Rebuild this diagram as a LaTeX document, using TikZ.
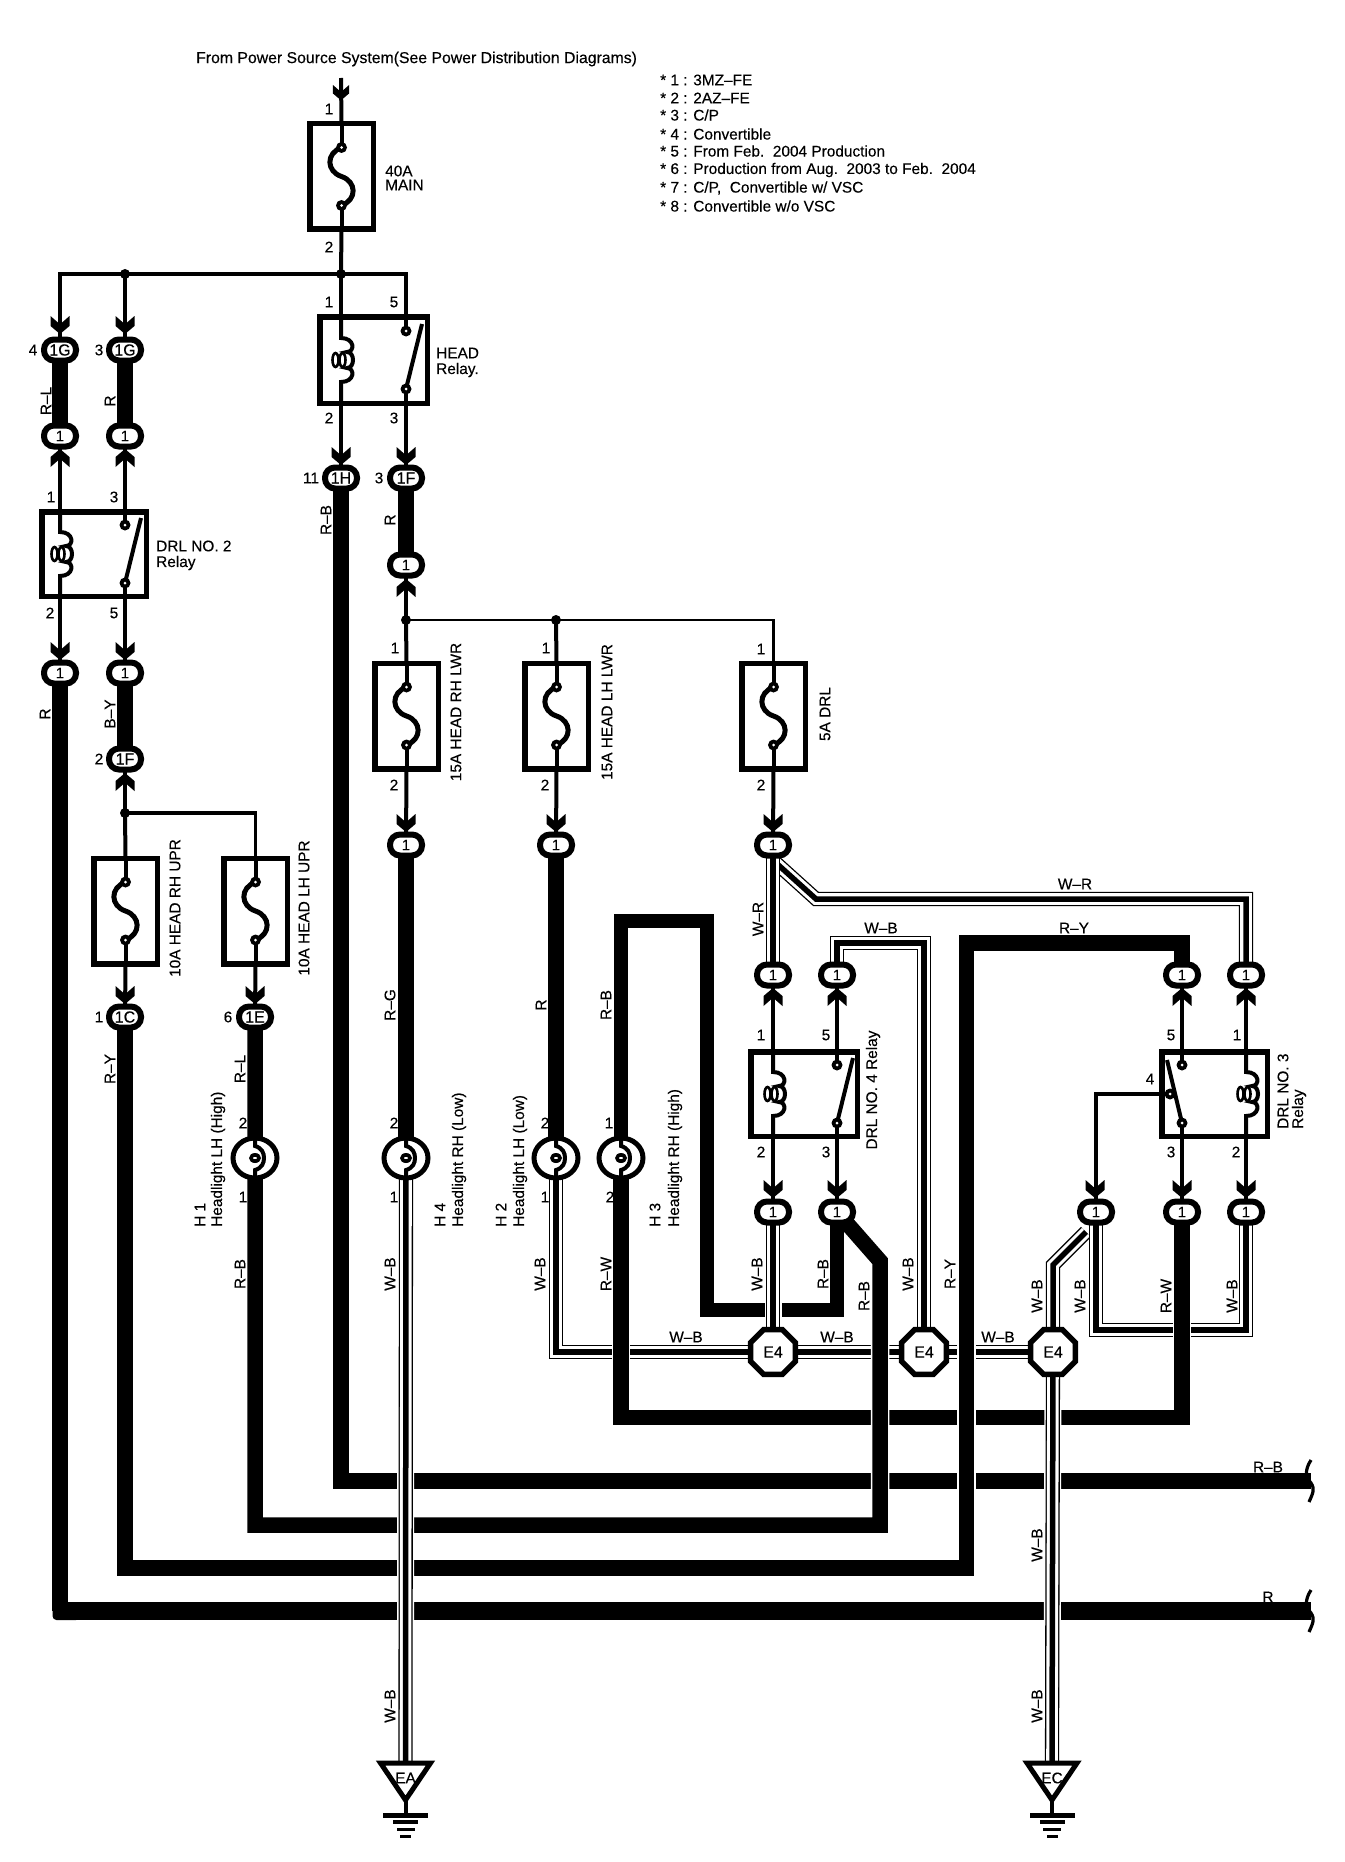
\documentclass[tikz,border=0pt]{standalone}
\usepackage{fontspec}
\setmainfont[FakeBold=0.25]{Liberation Sans}
\usetikzlibrary{shapes.geometric,calc}
\pgfdeclarelayer{wires}
\pgfsetlayers{wires,main}
\newcounter{lb}
\newcommand\txtsize{\fontsize{15.4}{15.4}\selectfont}
\newcommand\pinlab[2]{\stepcounter{lb}\node[pintext] (lb\arabic{lb}) at (#1) {#2};}
\newcommand\hlab[2]{\stepcounter{lb}\node[plaintext] (lb\arabic{lb}) at (#1) {#2};}
\newcommand\lefttxt[2]{\stepcounter{lb}\node[plaintext,anchor=west] (lb\arabic{lb}) at (#1) {#2};}
\newcommand\vlab[2]{\stepcounter{lb}\node[plaintext,rotate=90] (lb\arabic{lb}) at (#1) {#2};}
\newcommand\vstart[2]{\stepcounter{lb}\node[plaintext,rotate=90,anchor=west] (lb\arabic{lb}) at (#1) {#2};}
\tikzset{
  plaintext/.style={inner sep=0pt,font=\txtsize,text=black},
  pintext/.style={inner sep=0pt,font=\txtsize,text=black},
  ovalc/.style={draw=black,fill=white,line width=6pt,rounded corners=10pt,minimum width=32pt,minimum height=21pt,inner sep=0pt,font=\fontsize{15}{15}\selectfont},
  ovalb/.style={ovalc,font=\fontsize{16}{16}\selectfont},
  fusebox/.style={draw=black,line width=5.5pt,minimum width=63.5pt,minimum height=105.5pt,inner sep=0pt,outer sep=0pt},
  relaybox/.style={draw=black,line width=5.5pt,inner sep=0pt,outer sep=0pt},
  jdot/.style={circle,fill=black,minimum size=10pt,inner sep=0pt},
  bulbn/.style={ellipse,draw=black,fill=white,line width=5pt,minimum width=44pt,minimum height=40pt,inner sep=0pt},
  octa/.style={regular polygon,regular polygon sides=8,draw=black,fill=white,line width=5.5pt,minimum size=48.5pt,inner sep=0pt,font=\fontsize{16}{16}\selectfont},
  thinw/.style={line width=4pt,black},
  thickw/.style={line width=15.5pt,black},
  haloed/.style={preaction={draw,white,line width=18.5pt}},
  stripe/.style={line width=14.2pt,black,postaction={draw,white,line width=11.6pt},postaction={draw,black,line width=5.5pt}},
  stripeh/.style={preaction={draw,white,line width=17pt},stripe},
  darr/.pic={\fill[black] (-9.5,0)--(-1.5,7)--(1.5,7)--(9.5,0)--(9.5,10)--(0,18)--(-9.5,10)--cycle;},
  uarr/.pic={\fill[black] (-9.5,0)--(-1.5,-7)--(1.5,-7)--(9.5,0)--(9.5,-10)--(0,-18)--(-9.5,-10)--cycle;},
  ring/.pic={\fill[black] (0,0) circle (5.5pt);\fill[white] (0,0) circle (1.5pt);},
  fusemark/.pic={
    \draw[thinw] (0,-53)--(0,-29);
    \draw[thinw] (0,29)--(0,53);
    \draw[line width=5pt,black] (0,-29) .. controls (-16,-23) and (-15,-5) .. (0,0) .. controls (15,5) and (16,23) .. (0,29);
    \pic at (0,-29) {ring};
    \pic at (0,29) {ring};
  },
  coilmark/.pic={
    \draw[thinw] (0,-45)--(0,-22) .. controls (14,-22) and (14,-8) .. (6,-8) .. controls (14,-8) and (14,8) .. (6,8) .. controls (14,8) and (14,22) .. (0,22)--(0,45);
    \draw[line width=2.6pt,black] (-5.5,0) ellipse [x radius=3pt,y radius=7pt];
    \draw[line width=2.6pt,black] (1.5,0) ellipse [x radius=3pt,y radius=7pt];
  },
  switchr/.pic={
    \draw[thinw] (0,-45)--(0,-29);
    \draw[thinw] (0,29)--(0,45);
    \draw[line width=4pt,black] (0,29)--(16,-36);
    \pic at (0,-29) {ring};
    \pic at (0,29) {ring};
  },
  switchl/.pic={
    \draw[thinw] (0,-45)--(0,-29);
    \draw[thinw] (0,29)--(0,45);
    \draw[line width=4pt,black] (0,29)--(-15,-34);
    \pic at (0,-29) {ring};
    \pic at (0,29) {ring};
  },
  filament/.pic={
    \draw[line width=4pt,black] (0,-20)--(0,-12) .. controls (7,-10) and (9,-5) .. (9,0) .. controls (9,5) and (7,10) .. (0,12)--(0,20);
    \fill[black] (0,0) ellipse [x radius=6pt,y radius=5pt];\fill[white] (0,0) ellipse [x radius=2pt,y radius=1pt];
  },
  wavebreak/.pic={
    \draw[line width=3.2pt,black] (0,-21) .. controls (-7,-10) and (-5,-4) .. (0,2) .. controls (4,8) and (2,12) .. (-2,21);
  },
  groundmark/.pic={
    \draw[line width=5pt,black,fill=white,line join=miter] (-25,0)--(25,0)--(0,37)--cycle;
    \draw[thinw] (0,37)--(0,52);
    \fill[black] (-22.5,50) rectangle (22.5,54.5);
    \fill[black] (-12.5,57) rectangle (12.5,61);
    \fill[black] (-9,64.5) rectangle (9,68);
    \fill[black] (-5.5,72) rectangle (5.5,75);
  },
}
\begin{document}
\begin{tikzpicture}[x=1pt,y=-1pt]
\path[use as bounding box] (0,0) rectangle (1344,1862);

% ---- texts
\node[plaintext,anchor=west,font=\fontsize{15.8}{15.8}\selectfont] (title) at (196,59) {From Power Source System(See Power Distribution Diagrams)};
\lefttxt{660,80}{* 1 : 3MZ–FE}
\lefttxt{660,98}{* 2 : 2AZ–FE}
\lefttxt{660,115}{* 3 : C/P}
\lefttxt{660,134}{* 4 : Convertible}
\lefttxt{660,151}{* 5 : From Feb.\ \ 2004 Production}
\lefttxt{660,170}{* 6 : Production from Aug.\ \ 2003 to Feb.\ \ 2004}
\lefttxt{660,188}{* 7 : C/P,\ \ Convertible w/ VSC}
\lefttxt{660,206}{* 8 : Convertible w/o VSC}

% ---- boxes, junctions, connectors
\node[fusebox] (f40) at (341.5,176.5) {};
\node[fusebox] (frhu) at (125.5,911) {};
\node[fusebox] (flhu) at (255.5,911) {};
\node[fusebox] (frhl) at (406.5,716) {};
\node[fusebox] (flhl) at (556.5,716) {};
\node[fusebox] (fdrl) at (773.5,716) {};
\node[relaybox,minimum width=107.5pt,minimum height=86.5pt] (hr) at (373.5,360) {};
\node[relaybox,minimum width=104.5pt,minimum height=84.5pt] (r2) at (94,554) {};
\node[relaybox,minimum width=106.5pt,minimum height=84.5pt] (r4) at (804,1094) {};
\node[relaybox,minimum width=105.5pt,minimum height=84.5pt] (r3) at (1214.5,1094) {};
\node[jdot] (j0) at (341,274) {};
\node[jdot] (j1) at (125,274) {};
\node[jdot] (j2) at (406,620) {};
\node[jdot] (j3) at (556,620) {};
\node[jdot] (j4) at (125,813) {};

\node[ovalb] (g4) at (60,350) {1G};
\node[ovalb] (g3) at (125,350) {1G};
\node[ovalc] (a1) at (60,436) {1};
\node[ovalc] (a2) at (125,436) {1};
\node[ovalb] (h) at (341,478) {1H};
\node[ovalb] (f) at (406,478) {1F};
\node[ovalc] (b1) at (406,565) {1};
\node[ovalc] (l1) at (60,673) {1};
\node[ovalc] (l2) at (125,673) {1};
\node[ovalb] (f2) at (125,759) {1F};
\node[ovalb] (c) at (125,1017) {1C};
\node[ovalb] (e) at (255,1017) {1E};
\node[ovalc] (o1) at (406,845) {1};
\node[ovalc] (o2) at (556,845) {1};
\node[ovalc] (o3) at (773,845) {1};
\node[ovalc] (u1) at (773,975) {1};
\node[ovalc] (u2) at (837,975) {1};
\node[ovalc] (u3) at (1182,975) {1};
\node[ovalc] (u4) at (1246,975) {1};
\node[ovalc] (d1) at (773,1212) {1};
\node[ovalc] (d2) at (837,1212) {1};
\node[ovalc] (d3) at (1096,1212) {1};
\node[ovalc] (d4) at (1182,1212) {1};
\node[ovalc] (d5) at (1246,1212) {1};

\node[bulbn] (b1h) at (255,1158) {};
\node[bulbn] (b4) at (406,1158) {};
\node[bulbn] (b2) at (556,1158) {};
\node[bulbn] (b3) at (621,1158) {};
\node[octa] (ea4) at (773,1352) {E4};
\node[octa] (eb4) at (924,1352) {E4};
\node[octa] (ec4) at (1053,1352) {E4};
\coordinate (eatop) at (405.5,1763);
\coordinate (ectop) at (1052,1763);
\coordinate (srctop) at (341,78);
\coordinate (rbend) at (1311,1611);
\coordinate (rbbend) at (1311,1481);
\coordinate (sw4) at (1170,1094);

% ---- symbols
\foreach \p in {(341.5,176.5),(125.5,911),(255.5,911),(406.5,716),(556.5,716),(773.5,716)} {\pic at \p {fusemark};}
\pic at (341,360) {coilmark};
\pic at (60,554) {coilmark};
\pic at (773,1094) {coilmark};
\pic at (1246,1094) {coilmark};
\pic at (406,360) {switchr};
\pic at (125,554) {switchr};
\pic at (837,1094) {switchr};
\pic at (1182,1094) {switchl};
\pic at (1170,1094) {ring};
\foreach \p in {(255,1158),(406,1158),(556,1158),(621,1158)} {\pic at \p {filament};}
\pic at (405.5,1763) {groundmark};
\pic at (1052,1763) {groundmark};
\pic at (1311,1481) {wavebreak};
\pic at (1311,1611) {wavebreak};

% ---- arrowheads
\pic[scale=0.85] at (341,85) {darr};
\foreach \p in {(60,316),(125,316),(341,447),(406,447),(60,642),(125,642),(125,986),(255,986),(406,814),(556,814),(773,814),(773,1180),(837,1180),(1095,1180),(1182,1180),(1246,1180)} {\pic at \p {darr};}
\foreach \p in {(60,467),(125,467),(406,597),(125,791),(773,1006),(837,1006),(1182,1006),(1246,1006)} {\pic at \p {uarr};}

% ---- labels
\pinlab{329,109}{1}\pinlab{329,247}{2}
\lefttxt{385,171}{40A}\lefttxt{385,185}{MAIN}
\pinlab{33,350}{4}\pinlab{99,350}{3}
\vlab{46,401}{R–L}\vlab{110,401}{R}
\pinlab{51,497}{1}\pinlab{114,497}{3}\pinlab{50,613}{2}\pinlab{114,613}{5}
\lefttxt{156,546}{DRL NO. 2}\lefttxt{156,563}{Relay}
\pinlab{329,302}{1}\pinlab{394,302}{5}\pinlab{329,418}{2}\pinlab{394,418}{3}
\lefttxt{436,353}{HEAD}\lefttxt{436,370}{Relay.}
\pinlab{311,478}{11}\pinlab{379,478}{3}
\vlab{326,520}{R–B}\vlab{390,520}{R}
\vlab{45,714}{R}\vlab{110,714}{B–Y}
\pinlab{99,759}{2}
\vlab{175,908}{10A HEAD RH UPR}\vlab{304,908}{10A HEAD LH UPR}
\pinlab{99,1017}{1}\pinlab{228,1017}{6}
\vlab{110,1069}{R–Y}\vlab{240,1069}{R–L}
\pinlab{243,1123}{2}\pinlab{243,1197}{1}
\vstart{200,1227}{H 1}\vstart{218,1227}{Headlight LH (High)}
\pinlab{395,648}{1}\pinlab{546,648}{1}\pinlab{761,649}{1}
\pinlab{394,785}{2}\pinlab{545,785}{2}\pinlab{761,785}{2}
\vlab{456,712}{15A HEAD RH LWR}\vlab{607,712}{15A HEAD LH LWR}\vlab{825,714}{5A DRL}
\vlab{390,1005}{R–G}\vlab{541,1005}{R}\vlab{606,1005}{R–B}
\pinlab{394,1123}{2}\pinlab{545,1123}{2}\pinlab{609,1123}{1}
\pinlab{394,1197}{1}\pinlab{545,1197}{1}\pinlab{610,1197}{2}
\vstart{440,1227}{H 4}\vstart{459,1227}{Headlight RH (Low)}
\vstart{501,1227}{H 2}\vstart{520,1227}{Headlight LH (Low)}
\vstart{655,1227}{H 3}\vstart{675,1227}{Headlight RH (High)}
\hlab{1075,884}{W–R}\vlab{758,919}{W–R}
\hlab{881,928}{W–B}\hlab{1074,928}{R–Y}
\pinlab{761,1035}{1}\pinlab{826,1035}{5}\pinlab{761,1152}{2}\pinlab{826,1152}{3}
\vlab{873,1090}{DRL NO. 4 Relay}
\pinlab{1171,1035}{5}\pinlab{1237,1035}{1}\pinlab{1171,1152}{3}\pinlab{1236,1152}{2}\pinlab{1150,1079}{4}
\vstart{1283,1129}{DRL NO. 3}\vstart{1299,1129}{Relay}
\vlab{240,1274}{R–B}\vlab{390,1274}{W–B}\vlab{540,1274}{W–B}\vlab{606,1274}{R–W}
\vlab{757,1274}{W–B}\vlab{823,1274}{R–B}\vlab{864,1296}{R–B}\vlab{908,1274}{W–B}\vlab{950,1274}{R–Y}
\vlab{1037,1296}{W–B}\vlab{1080,1296}{W–B}\vlab{1166,1296}{R–W}\vlab{1232,1296}{W–B}
\hlab{686,1337}{W–B}\hlab{837,1337}{W–B}\hlab{998,1337}{W–B}
\vlab{1037,1545}{W–B}\vlab{1037,1706}{W–B}\vlab{390,1706}{W–B}
\hlab{1268,1467}{R–B}\hlab{1268,1597}{R}
\hlab{405.5,1778}{EA}\hlab{1052,1778}{EC}

% ---- wires (behind the nodes)
\begin{pgfonlayer}{wires}
\fill[white] (0,0) rectangle (1344,1862);
% thin wires
\draw[thinw] (srctop)--(f40.north);
\draw[thinw] (f40.south)--(j0.center);
\draw[line width=4.5pt,black] (g4.center) |- (j0.center);
\draw[line width=4.5pt,black] (j0.center) -| (hr.north -| f.center);
\draw[thinw] (j1.center)--(g3.center);
\draw[thinw] (j0.center)--(h.center |- hr.north);
\draw[thinw] (h.center |- hr.south)--(h.center);
\draw[thinw] (f.center |- hr.south)--(f.center);
\draw[thinw] (a1.center)--(a1.center |- r2.north);
\draw[thinw] (a2.center)--(a2.center |- r2.north);
\draw[thinw] (l1.center |- r2.south)--(l1.center);
\draw[thinw] (l2.center |- r2.south)--(l2.center);
\draw[thinw] (f2.center)--(j4.center);
\draw[line width=3.5pt,black] (j4.center)--(j4.center -| flhu.north) -- (flhu.north);
\draw[thinw] (j4.center)--(frhu.north);
\draw[thinw] (frhu.south)--(c.center);
\draw[thinw] (flhu.south)--(e.center);
\draw[thinw] (b1.center)--(j2.center);
\draw[line width=2.8pt,black] (j2.center)--(j2.center -| fdrl.north)--(fdrl.north);
\draw[thinw] (j2.center)--(frhl.north);
\draw[thinw] (j3.center)--(flhl.north);
\draw[thinw] (frhl.south)--(o1.center);
\draw[thinw] (flhl.south)--(o2.center);
\draw[thinw] (fdrl.south)--(o3.center);
\draw[thinw] (u1.center)--(u1.center |- r4.north);
\draw[thinw] (u2.center)--(u2.center |- r4.north);
\draw[thinw] (u3.center)--(u3.center |- r3.north);
\draw[thinw] (u4.center)--(u4.center |- r3.north);
\draw[thinw] (d1.center |- r4.south)--(d1.center);
\draw[thinw] (d2.center |- r4.south)--(d2.center);
\draw[thinw] (d4.center |- r3.south)--(d4.center);
\draw[thinw] (d5.center |- r3.south)--(d5.center);
\draw[thinw] (sw4) -| (d3.center);
% thick straight runs
\draw[thickw] (g4.center)--(a1.center);
\draw[thickw] (g3.center)--(a2.center);
\draw[thickw] (l2.center)--(f2.center);
\draw[thickw] (f.center)--(b1.center);
\draw[thickw] (o1.center)--(b4.center);
\draw[thickw] (o2.center)--(b2.center);
% W-B stripes that lie under the thick wires
\draw[stripe] (b2.center) |- (ea4.center);
\draw[stripe] (ea4.center)--(eb4.center)--(ec4.center);
\draw[stripe] (u2.center) |- (880,943) -- (eb4.center |- 0,943) -- (eb4.center);
\draw[stripe] (1086,1232)--(ec4.center |- 0,1265)--(ec4.center);
\draw[stripe] (d3.center) |- (d5.center |- 0,1330) -- (d5.center);
% thick loops
\draw[thickw,haloed] (b3.center) |- (d4.center |- 0,1417.5) -- (d4.center);
\draw[thickw] (h.center) |- (rbbend);
\draw[thickw] (l1.center)--(60,1611);
\fill[black,rounded corners=4pt] (52.5,1602) rectangle (80,1620);
\draw[line width=18pt,black] (70,1611)--(rbend);
\draw[thickw,haloed] (e.center)--(255,1525)--(880,1525)--(880,1261)--(d2.center);
\draw[line width=14pt,black] (b3.center)--(621,920.5)--(707,920.5)--(707,1310)--(837,1310)--(d2.center);
\draw[thickw,haloed] (c.center)--(125,1568)--(966.5,1568)--(966.5,943)--(u3.center |- 0,943)--(u3.center);
% stripes on top
\draw[stripeh] (775,862)--(816,899)--(1246,899)--(u4.center);
\draw[stripe] (o3.center)--(u1.center);
\draw[stripeh] (d1.center)--(ea4.center);
\draw[stripeh] (ec4.center)--(ectop);
\draw[stripeh] (b4.center)--(eatop);
\end{pgfonlayer}
\end{tikzpicture}
\end{document}
